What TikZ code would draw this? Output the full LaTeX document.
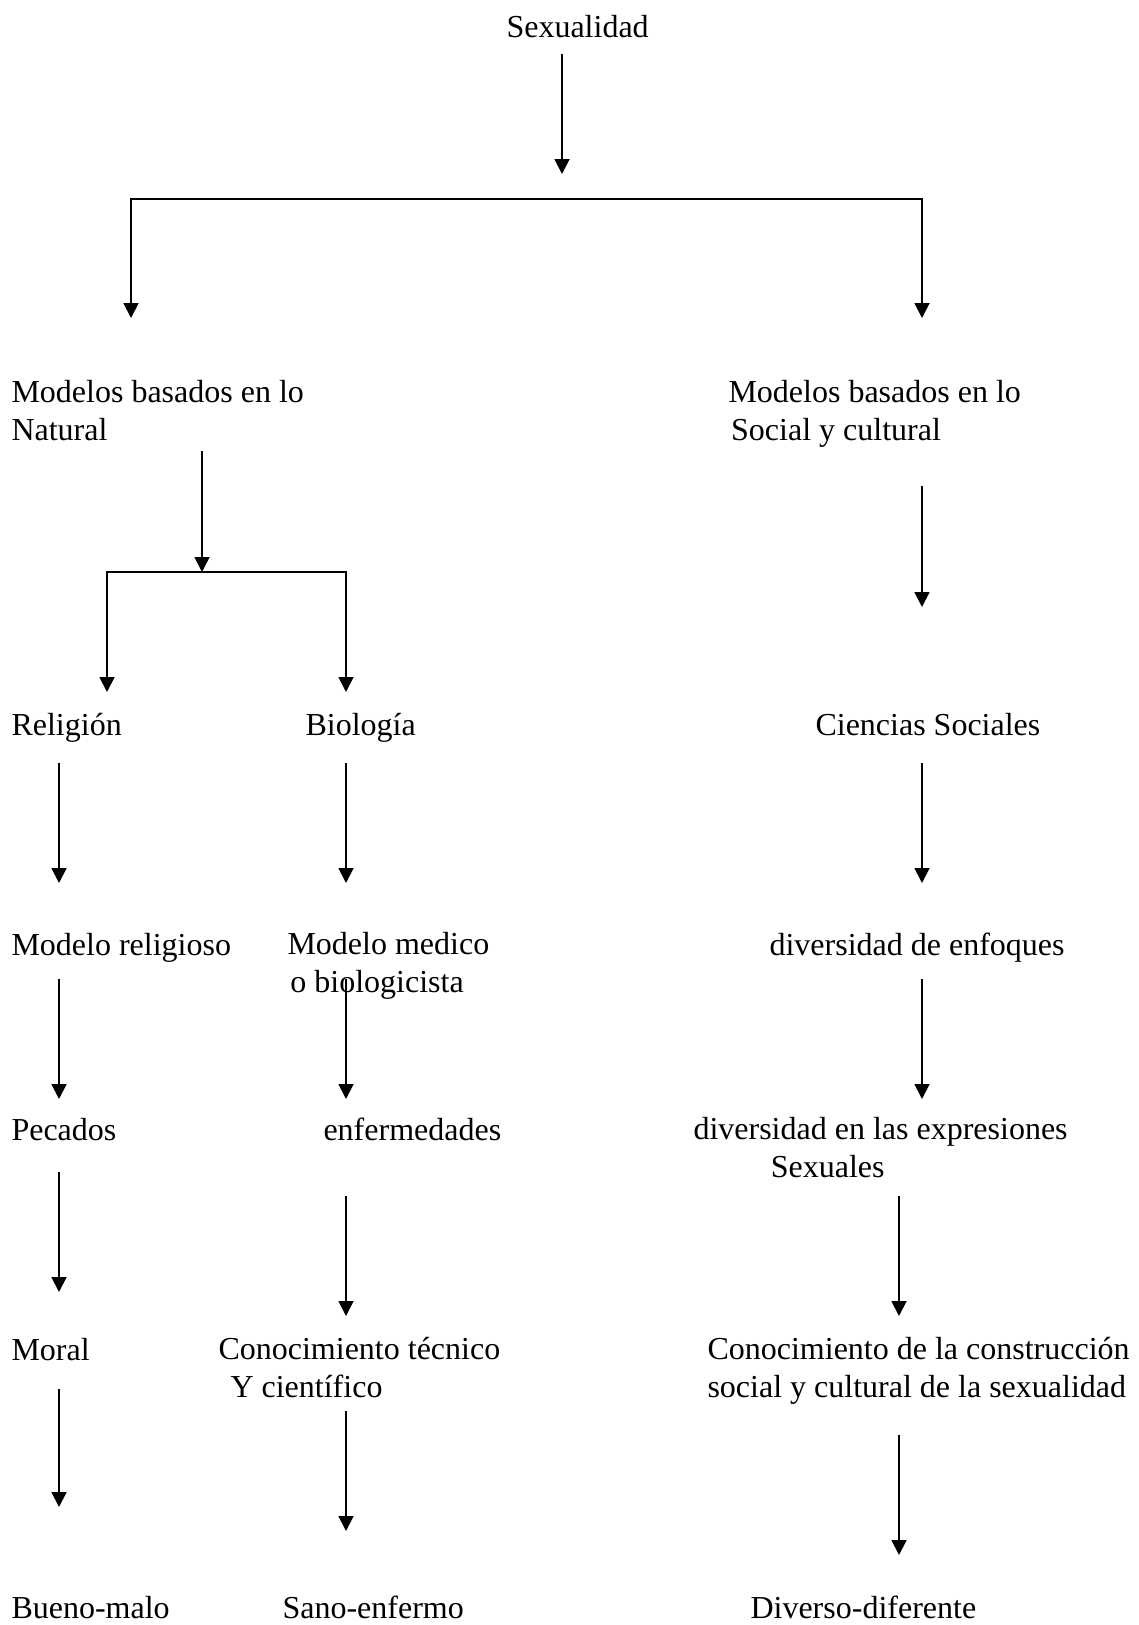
\documentclass[tikz,border=0pt]{standalone}
\usepackage{fontspec}
\setmainfont{Liberation Serif}
\usetikzlibrary{arrows.meta,calc}

\begin{document}
\begin{tikzpicture}[x=0.375pt, y=-0.375pt,
    txt/.style={anchor=base west, inner sep=0pt, align=left, font=\fontsize{12}{13.9}\selectfont},
    flecha/.style={line width=0.7pt, -{Triangle[length=5.6pt, width=5.6pt]}}]
    \useasboundingbox (0,0) rectangle (1138,1625);

    % Columnas
    \coordinate (junta1) at (562,199);
    \coordinate (junta2) at (202,572);
    \coordinate (colN) at (131,0);
    \coordinate (colR) at (922,0);
    \coordinate (colRl) at (107,0);
    \coordinate (colL) at (59,0);
    \coordinate (colM) at (346,0);
    \coordinate (colS) at (899,0);

    % Textos (los de dos lineas se colocan por su ultima linea)
    \node[txt] (sexu) at (506,37) {Sexualidad};
    \node[txt] (modnat) at (11,440) {Modelos basados en lo\\Natural};
    \node[txt] (modsoc) at (728,440) {Modelos basados en lo\\\hspace*{1pt}Social y cultural};

    \node[txt] (relig) at (11,735) {Religión};
    \node[txt] (biol) at (305,735) {Biología};
    \node[txt] (cienc) at (815,735) {Ciencias Sociales};

    \node[txt] (modrel) at (11,955) {Modelo religioso};
    \node[txt] (modmed) at (287,992) {Modelo medico\\\hspace*{1.1pt}o biologicista};
    \node[txt] (divenf) at (769,955) {diversidad de enfoques};

    \node[txt] (pec) at (11,1140) {Pecados};
    \node[txt] (enf) at (323,1140) {enfermedades};
    \node[txt] (divexp) at (693,1177) {diversidad en las expresiones\\\hspace*{29pt}Sexuales};

    \node[txt] (moral) at (11,1360) {Moral};
    \node[txt] (contec) at (218,1397) {Conocimiento técnico\\\hspace*{4.5pt}Y científico};
    \node[txt] (concon) at (707,1397) {Conocimiento de la construcción\\social y cultural de la sexualidad};

    \node[txt] (bueno) at (11,1618) {Bueno-malo};
    \node[txt] (sano) at (282,1618) {Sano-enfermo};
    \node[txt] (diverso) at (750,1618) {Diverso-diferente};

    % Ramas principales
    \draw[flecha] ($(sexu.base -| junta1)+(0,17)$) -- ($(junta1)+(0,-25)$);
    \draw[flecha] (junta1) -| ($(modnat.base -| colN)+(0,-122)$);
    \draw[flecha] (junta1) -| ($(modsoc.base -| colR)+(0,-122)$);

    % Lo natural
    \draw[flecha] ($(modnat.base -| junta2)+(0,11)$) -- (junta2);
    \draw[flecha] (junta2) -| ($(relig.base -| colRl)+(0,-43)$);
    \draw[flecha] (junta2) -| ($(biol.base -| colM)+(0,-43)$);
    \draw[flecha] ($(relig.base -| colL)+(0,28)$) -- ($(modrel.base -| colL)+(0,-72)$);
    \draw[flecha] ($(biol.base -| colM)+(0,28)$) -- ($(modmed.base -| colM)+(0,-109)$);
    \draw[flecha] ($(modrel.base -| colL)+(0,24)$) -- ($(pec.base -| colL)+(0,-41)$);
    \draw[flecha] ($(modmed.base -| colM)+(0,-13)$) -- ($(enf.base -| colM)+(0,-41)$);
    \draw[flecha] ($(pec.base -| colL)+(0,32)$) -- ($(moral.base -| colL)+(0,-68)$);
    \draw[flecha] ($(enf.base -| colM)+(0,56)$) -- ($(contec.base -| colM)+(0,-81)$);
    \draw[flecha] ($(moral.base -| colL)+(0,29)$) -- ($(bueno.base -| colL)+(0,-111)$);
    \draw[flecha] ($(contec.base -| colM)+(0,14)$) -- ($(sano.base -| colM)+(0,-87)$);

    % Lo social y cultural
    \draw[flecha] ($(modsoc.base -| colR)+(0,46)$) -- ($(cienc.base -| colR)+(0,-128)$);
    \draw[flecha] ($(cienc.base -| colR)+(0,28)$) -- ($(divenf.base -| colR)+(0,-72)$);
    \draw[flecha] ($(divenf.base -| colR)+(0,24)$) -- ($(divexp.base -| colR)+(0,-78)$);
    \draw[flecha] ($(divexp.base -| colS)+(0,19)$) -- ($(concon.base -| colS)+(0,-81)$);
    \draw[flecha] ($(concon.base -| colS)+(0,38)$) -- ($(diverso.base -| colS)+(0,-63)$);
\end{tikzpicture}
\end{document}
